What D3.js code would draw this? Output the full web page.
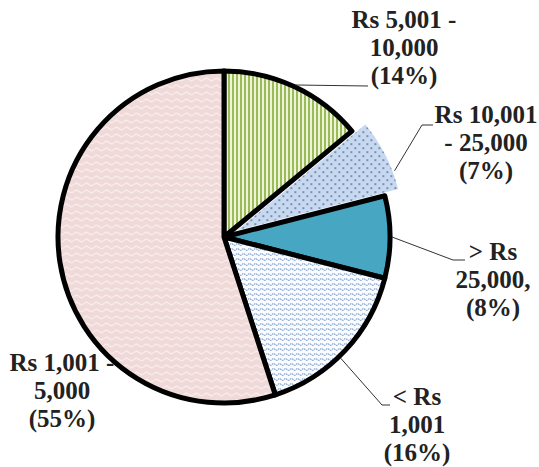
<!DOCTYPE html>
<html>
<head>
<meta charset="utf-8">
<script src="https://cdn.jsdelivr.net/npm/d3@7"></script>
<style>
  body { margin: 0; background: #fff; }
</style>
</head>
<body>
<svg width="539" height="467"></svg>
<script>
// slices clockwise from 12 o'clock
var labels = [
  ["Rs 5,001 -", "10,000", "(14%)"],
  ["Rs 10,001", "- 25,000", "(7%)"],
  ["> Rs", "25,000,", "(8%)"],
  ["< Rs", "1,001", "(16%)"],
  ["Rs 1,001 -", "5,000", "(55%)"]
];
var values = [14, 7, 8, 16, 55];
var fills = ["url(#stripes)", "url(#dots)", "#47a7c3", "url(#waveBlue)", "url(#wavePink)"];

// label placement (text centre x, first baseline y, leader end)
var layout = [
  { x: 404, y: 28, t: 0.5, elbow: [368, 86], end: [368, 86] },
  { x: 486, y: 123, t: 0.75, elbow: [422, 125], end: [433, 125] },
  { x: 493, y: 260, t: 0.5, elbow: [453, 260], end: [465, 260] },
  { x: 417, y: 405, t: 0.55, elbow: [382, 405], end: [390, 405] },
  { x: 62, y: 371, t: null }
];

var svg = d3.select("svg"),
  cx = 224,
  cy = 237,
  r = 166,
  explode = 15,
  lineH = 28;

var defs = svg.append("defs");

var p = defs.append("pattern").attr("id", "stripes").attr("patternUnits", "userSpaceOnUse")
  .attr("width", 4).attr("height", 4);
p.append("rect").attr("width", 4).attr("height", 4).attr("fill", "#eef4d8");
p.append("rect").attr("width", 2).attr("height", 4).attr("fill", "#9bbb59");

p = defs.append("pattern").attr("id", "dots").attr("patternUnits", "userSpaceOnUse")
  .attr("width", 8).attr("height", 8);
p.append("rect").attr("width", 8).attr("height", 8).attr("fill", "#c6d9f1");
p.append("circle").attr("cx", 2).attr("cy", 2).attr("r", 0.8).attr("fill", "#1f2f55");
p.append("circle").attr("cx", 6).attr("cy", 6).attr("r", 0.8).attr("fill", "#1f2f55");

p = defs.append("pattern").attr("id", "waveBlue").attr("patternUnits", "userSpaceOnUse")
  .attr("width", 6).attr("height", 5);
p.append("rect").attr("width", 6).attr("height", 5).attr("fill", "#fafcff");
p.append("path").attr("d", "M0 2.5 Q1.5 0.8 3 2.5 T6 2.5")
  .attr("fill", "none").attr("stroke", "#7d9fcc").attr("stroke-width", 1.1)
  .attr("stroke-dasharray", "1.6 0.8");

p = defs.append("pattern").attr("id", "wavePink").attr("patternUnits", "userSpaceOnUse")
  .attr("width", 10).attr("height", 7);
p.append("rect").attr("width", 10).attr("height", 7).attr("fill", "#f0dad9");
p.append("path").attr("d", "M0 3.5 Q2.5 1 5 3.5 T10 3.5")
  .attr("fill", "none").attr("stroke", "#f9ecec").attr("stroke-width", 1.2);

var pie = d3.pie().sort(null).value(function (d) { return d; });
var arcs = pie(values);
var arc = d3.arc().innerRadius(0).outerRadius(r);

var g = svg.append("g").attr("transform", "translate(" + cx + "," + cy + ")");

function offset(d, i) {
  if (i !== 1) return [0, 0];
  var a = (d.startAngle + d.endAngle) / 2;
  return [explode * Math.sin(a), -explode * Math.cos(a)];
}

g.selectAll("path.slice")
  .data(arcs)
  .enter()
  .append("path")
  .attr("class", "slice")
  .attr("d", arc)
  .attr("transform", function (d, i) {
    var o = offset(d, i);
    return "translate(" + o[0] + "," + o[1] + ")";
  })
  .attr("fill", function (d, i) { return fills[i]; })
  .attr("stroke", function (d, i) { return i === 1 ? "none" : "#000"; })
  .attr("stroke-width", 5)
  .attr("stroke-linejoin", "round");

// leader lines
arcs.forEach(function (d, i) {
  var L = layout[i];
  if (L.t === null) return;
  var a = d.startAngle + (d.endAngle - d.startAngle) * L.t;
  var o = offset(d, i);
  var sx = cx + o[0] + (r + 2) * Math.sin(a),
    sy = cy + o[1] - (r + 2) * Math.cos(a);
  svg.append("polyline")
    .attr("points", [[sx, sy], L.elbow, L.end].map(function (q) { return q.join(","); }).join(" "))
    .attr("fill", "none")
    .attr("stroke", "#333")
    .attr("stroke-width", 1);
});

// labels
labels.forEach(function (lines, i) {
  var L = layout[i];
  var t = svg.append("text")
    .attr("text-anchor", "middle")
    .attr("font-family", "'Liberation Serif', 'Times New Roman', 'DejaVu Serif', serif")
    .attr("font-weight", "bold")
    .attr("font-size", 25)
    .attr("fill", "#222");
  lines.forEach(function (s, k) {
    t.append("tspan").attr("x", L.x).attr("y", L.y + k * lineH).text(s);
  });
});
</script>
</body>
</html>
